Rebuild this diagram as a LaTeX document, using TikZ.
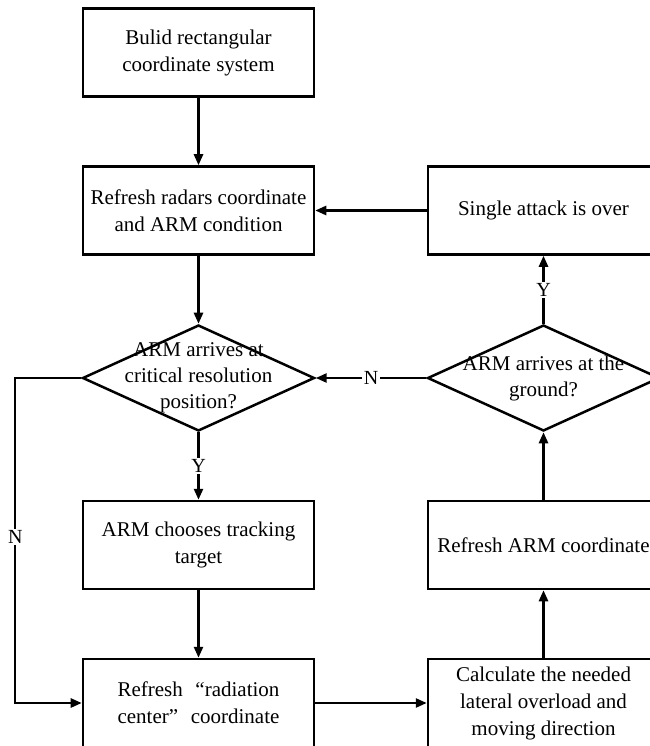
\documentclass[tikz,border=0pt]{standalone}
\usepackage{fontspec}
\setmainfont{Liberation Serif}
\usetikzlibrary{shapes.geometric,arrows.meta}

\begin{document}
\begin{tikzpicture}[node distance=158pt, line width=2.5pt, >={Triangle[length=11pt, width=9pt]}]
        \tikzstyle{block}=[draw, rectangle, minimum width=231pt, minimum height=88pt, align=center, font=\fontsize{21}{27}\selectfont];
        \tikzstyle{decide}=[draw, diamond, minimum width=232pt, minimum height=106pt, inner sep=0pt];
        \tikzstyle{dtext}=[align=center, font=\fontsize{21}{26}\selectfont];
        \tikzstyle{tag}=[fill=white, inner sep=1.5pt, font=\fontsize{20}{24}\selectfont];

        \useasboundingbox (-198.5pt,52.5pt) rectangle (450.5pt,-693.5pt);

        \node[block] (build) {Bulid rectangular\\coordinate system};
        \node[block, below of=build] (refresh) {Refresh radars coordinate\\and ARM condition};
        \node[decide, below of=refresh, yshift=-9.5pt] (arrive) {};
        \node[dtext] (arrivetxt) at (arrive) {ARM arrives at\\critical resolution\\position?};
        \node[block, below of=arrive, yshift=-9pt] (choose) {ARM chooses tracking\\target};
        \node[block, below of=choose] (radiation) {Refresh\hspace{0.6em}“radiation\\center”\hspace{0.6em}coordinate};
        \node[block, right of=radiation, xshift=187pt] (calc) {Calculate the needed\\lateral overload and\\moving direction};
        \node[block, above of=calc] (refarm) {Refresh ARM coordinate};
        \node[decide, above of=refarm, yshift=9pt] (ground) {};
        \node[dtext] (groundtxt) at (ground) {ARM arrives at the\\ground?};
        \node[block, above of=ground, yshift=9.5pt] (single) {Single attack is over};

        \draw[->] (build) -- (refresh);
        \draw[->] (refresh) -- (arrive);
        \draw[->] (arrive) -- node[tag] {Y} (choose);
        \draw[->] (choose) -- (radiation);
        \draw[->] (arrive.west) -- ++(-66pt,0) |- node[tag, pos=0.245] {N} (radiation.west);
        \draw[->] (radiation) -- (calc);
        \draw[->] (calc) -- (refarm);
        \draw[->] (refarm) -- (ground);
        \draw[->] (ground) -- node[tag] {Y} (single);
        \draw[->] (ground) -- node[tag] {N} (arrive);
        \draw[->] (single) -- (refresh);
    \end{tikzpicture}
\end{document}
